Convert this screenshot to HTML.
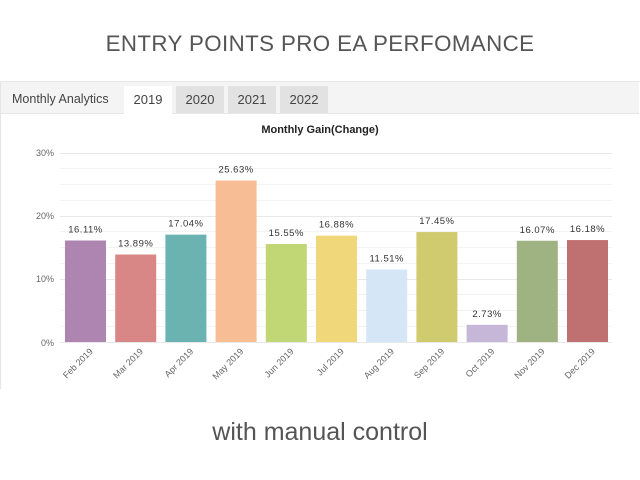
<!DOCTYPE html>
<html><head><meta charset="utf-8"><style>
body{margin:0;width:640px;height:480px;background:#fff;font-family:"Liberation Sans",sans-serif;position:relative;overflow:hidden}
.t{position:absolute;left:0;width:640px;text-align:center;color:#555}
</style></head><body>
<div class="t" style="top:31px;font-size:22.3px;letter-spacing:0.4px">ENTRY POINTS PRO EA PERFOMANCE</div>
<div style="position:absolute;left:0;top:81px;width:639px;height:307px;border:1px solid #e6e6e6;border-bottom:none"></div>
<div style="position:absolute;left:1px;top:82px;width:638px;height:31px;background:#f4f4f4;border-bottom:1px solid #e6e6e6"></div>
<div style="position:absolute;left:12px;top:92px;font-size:12.5px;color:#444">Monthly Analytics</div>
<div style="position:absolute;left:124px;top:86px;width:48px;height:28px;background:#fff;font-size:13px;color:#444;text-align:center;line-height:28px">2019</div>
<div style="position:absolute;left:176px;top:86px;width:48px;height:27px;background:#e2e2e2;font-size:13px;color:#444;text-align:center;line-height:27px">2020</div>
<div style="position:absolute;left:228px;top:86px;width:48px;height:27px;background:#e2e2e2;font-size:13px;color:#444;text-align:center;line-height:27px">2021</div>
<div style="position:absolute;left:280px;top:86px;width:48px;height:27px;background:#e2e2e2;font-size:13px;color:#444;text-align:center;line-height:27px">2022</div>
<svg style="position:absolute;left:0;top:0" width="640" height="480" font-family="Liberation Sans,sans-serif">
<text x="320" y="133" text-anchor="middle" font-size="11" font-weight="bold" fill="#222">Monthly Gain(Change)</text>
<g stroke="#f3f3f3"><line x1="60" x2="612" y1="168.5" y2="168.5"/><line x1="60" x2="612" y1="184.5" y2="184.5"/><line x1="60" x2="612" y1="200.5" y2="200.5"/><line x1="60" x2="612" y1="231.5" y2="231.5"/><line x1="60" x2="612" y1="247.5" y2="247.5"/><line x1="60" x2="612" y1="263.5" y2="263.5"/><line x1="60" x2="612" y1="294.5" y2="294.5"/><line x1="60" x2="612" y1="310.5" y2="310.5"/><line x1="60" x2="612" y1="326.5" y2="326.5"/></g>
<g stroke="#e8e8e8"><line x1="60" x2="612" y1="153.5" y2="153.5"/><line x1="60" x2="612" y1="216.5" y2="216.5"/><line x1="60" x2="612" y1="279.5" y2="279.5"/><line x1="60" x2="612" y1="342.5" y2="342.5"/></g>
<g font-size="9" fill="#666" text-anchor="end"><text x="54" y="156">30%</text><text x="54" y="219">20%</text><text x="54" y="282">10%</text><text x="54" y="346">0%</text></g>
<g id="bars"></g>
</svg>
<div class="t" style="top:418px;font-size:25px">with manual control</div>
<script>
var d=[["Feb",16.11,"#ad85b0"],["Mar",13.89,"#d98686"],["Apr",17.04,"#6ab3b1"],["May",25.63,"#f7be95"],["Jun",15.55,"#c1d675"],["Jul",16.88,"#f0d77a"],["Aug",11.51,"#d5e6f7"],["Sep",17.45,"#d1cb6f"],["Oct",2.73,"#c6b6d8"],["Nov",16.07,"#9fb382"],["Dec",16.18,"#bf7070"]];
var s="";d.forEach(function(b,i){var x=65+i*50.2,h=b[1]*6.3,y=342-h,c=x+20.5;
s+='<rect x="'+x+'" y="'+y+'" width="41" height="'+h+'" fill="'+b[2]+'"/>';
s+='<text x="'+c+'" y="'+(y-8)+'" text-anchor="middle" font-size="9.5" fill="#333" letter-spacing="0.5">'+b[1].toFixed(2)+'%</text>';
s+='<text transform="translate('+(c+8)+',352) rotate(-45)" text-anchor="end" font-size="9" fill="#666">'+b[0]+' 2019</text>';});
document.getElementById("bars").innerHTML=s;
</script>
</body></html>
